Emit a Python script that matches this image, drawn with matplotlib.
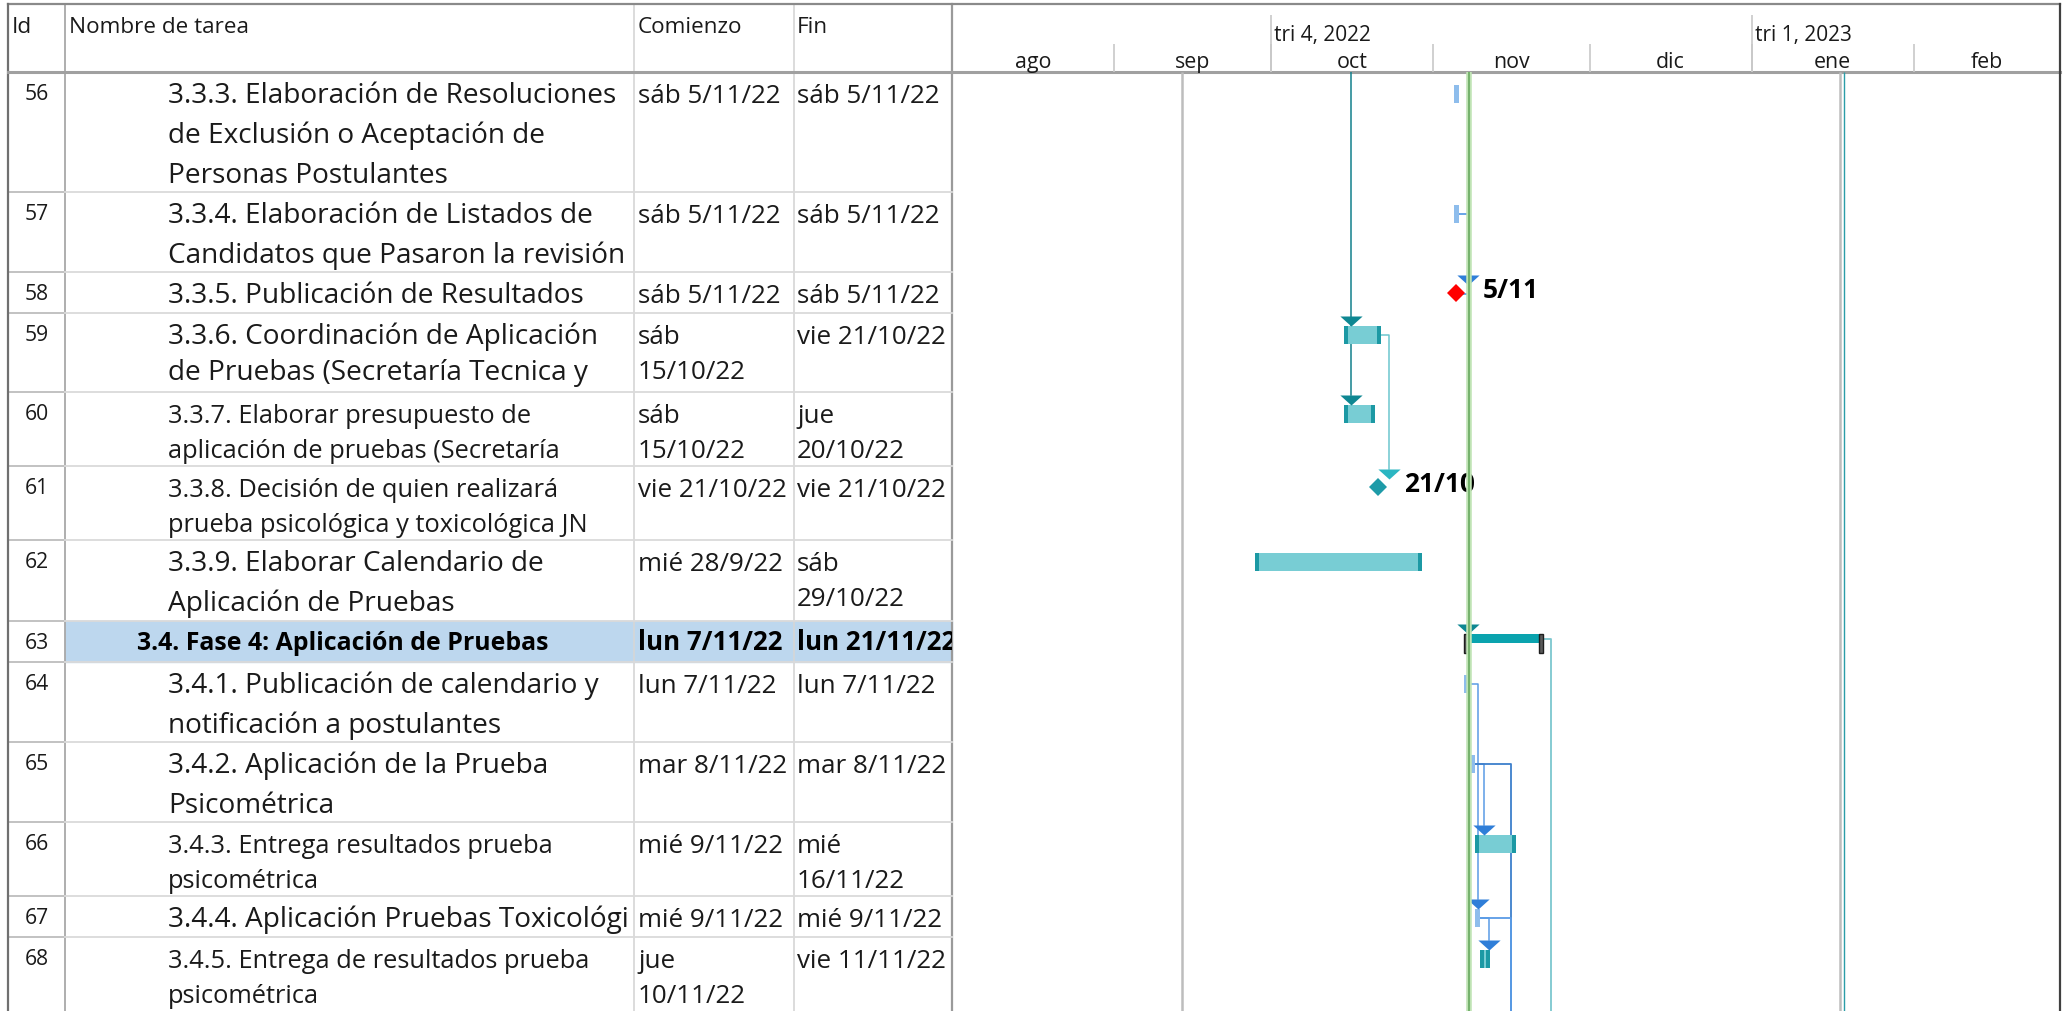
import matplotlib
matplotlib.use('Agg')
import matplotlib.pyplot as plt
from matplotlib.path import Path
from matplotlib.markers import MarkerStyle
from matplotlib.transforms import Bbox, TransformedBbox
from datetime import datetime, timedelta

plt.rcParams['font.family'] = ['Open Sans', 'DejaVu Sans']

# ---------------- data ----------------
ids = [56, 57, 58, 59, 60, 61, 62, 63, 64, 65, 66, 67, 68]
names = [
    "3.3.3. Elaboración de Resoluciones\nde Exclusión o Aceptación de\nPersonas Postulantes",
    "3.3.4. Elaboración de Listados de\nCandidatos que Pasaron la revisión",
    "3.3.5. Publicación de Resultados",
    "3.3.6. Coordinación de Aplicación\nde Pruebas (Secretaría Tecnica y",
    "3.3.7. Elaborar presupuesto de\naplicación de pruebas (Secretaría",
    "3.3.8. Decisión de quien realizará\nprueba psicológica y toxicológica JN",
    "3.3.9. Elaborar Calendario de\nAplicación de Pruebas",
    "3.4. Fase 4: Aplicación de Pruebas",
    "3.4.1. Publicación de calendario y\nnotificación a postulantes",
    "3.4.2. Aplicación de la Prueba\nPsicométrica",
    "3.4.3. Entrega resultados prueba\npsicométrica",
    "3.4.4. Aplicación Pruebas Toxicológi",
    "3.4.5. Entrega de resultados prueba\npsicométrica",
]
start_labels = ["sáb 5/11/22", "sáb 5/11/22", "sáb 5/11/22", "sáb\n15/10/22", "sáb\n15/10/22",
                "vie 21/10/22", "mié 28/9/22", "lun 7/11/22", "lun 7/11/22", "mar 8/11/22",
                "mié 9/11/22", "mié 9/11/22", "jue\n10/11/22"]
finish_labels = ["sáb 5/11/22", "sáb 5/11/22", "sáb 5/11/22", "vie 21/10/22", "jue\n20/10/22",
                 "vie 21/10/22", "sáb\n29/10/22", "lun 21/11/22", "lun 7/11/22", "mar 8/11/22",
                 "mié\n16/11/22", "mié 9/11/22", "vie 11/11/22"]
task_start = ["2022-11-05", "2022-11-05", "2022-11-05", "2022-10-15", "2022-10-15", "2022-10-21",
              "2022-09-28", "2022-11-07", "2022-11-07", "2022-11-08", "2022-11-09", "2022-11-09",
              "2022-11-10"]
task_finish = ["2022-11-05", "2022-11-05", "2022-11-05", "2022-10-21", "2022-10-20", "2022-10-21",
               "2022-10-29", "2022-11-21", "2022-11-07", "2022-11-08", "2022-11-16", "2022-11-09",
               "2022-11-11"]
task_kind = ["manual", "manual", "milestone", "task", "task", "milestone", "task", "summary",
             "manual", "manual", "task", "manual", "task"]
small_text = [60, 61, 66, 68]
milestone_labels = {58: "5/11", 61: "21/10"}

# links between visible tasks (pred, succ) and the colour of each link
links = [(57, 58), (58, 63), (59, 61), (64, 67), (65, 66), (67, 68)]
link_colors = ["#3F8BE0", "#3F8BE0", "#6CC6CE", "#5A9BE6", "#5A9BE6", "#5A9BE6"]
# links to tasks further down (pred, x where the line drops) and from a task above
links_out = [(63, None), (65, "2022-11-16"), (67, "2022-11-16")]
links_out_colors = ["#7CC7CF", "#3D7FCB", "#5A9BE6"]
link_in_date = datetime(2022, 10, 16, 6)
link_in_tasks = [59, 60]
arrow_colors = {58: "#2F7ED8", 59: "#0E8792", 60: "#0E8792", 61: "#2BB6C2", 63: "#0E8792",
                66: "#2F7ED8", 67: "#2F7ED8", 68: "#2F7ED8"}

months = ["ago", "sep", "oct", "nov", "dic", "ene", "feb"]
month_starts = ["2022-08-01", "2022-09-01", "2022-10-01", "2022-11-01", "2022-12-01",
                "2023-01-01", "2023-02-01"]
quarters = ["tri 4, 2022", "tri 1, 2023"]
quarter_starts = ["2022-10-01", "2023-01-01"]
gray_lines = ["2022-09-14", "2023-01-18"]
pass_line = datetime(2023, 1, 18, 14)
today = datetime(2022, 11, 7, 20)

# ---------------- layout (pixels) ----------------
W, H = 2070, 1012
row_heights = [120, 80, 41, 79, 74, 74, 81, 41, 80, 80, 74, 41, 80]
head_bottom = 73
x_left, x_id, x_name, x_start, x_fin, x_right = 8, 65, 634, 794, 952, 2060
row_tops = [head_bottom]
for h in row_heights[:-1]:
    row_tops.append(row_tops[-1] + h)

d = lambda s: datetime.strptime(s, "%Y-%m-%d")
t0, t1 = datetime(2022, 8, 1), datetime(2023, 3, 1)
px_day = (x_right - x_fin) / (t1 - t0).days
gap = timedelta(days=1.7)

fig = plt.figure(figsize=(W / 100, H / 100), dpi=100)
ax = fig.add_axes([0, 0, 1, 1])
ax.set_xlim(0, W)
ax.set_ylim(H, 0)
ax.axis("off")

BIG, SMALL, DATE, HEAD, IDS = 20.2, 18.3, 18.7, 16.2, 15.2


def clipped(x, y, s, x0, x1, **kw):
    t = ax.text(x, y, s, clip_on=True, **kw)
    t.set_clip_box(TransformedBbox(Bbox([[x0, 0], [x1, H]]), ax.transData))
    return t


# table frame and header
ax.add_patch(plt.Rectangle((x_id, row_tops[7]), x_fin - x_id, row_heights[7], color="#BDD7EE", zorder=0))
for x in (x_name, x_start):
    ax.plot([x, x], [5, H], color="#D6D6D6", lw=1.2)
ax.plot([x_id, x_id], [5, H], color="#A8A8A8", lw=1.3)
ax.plot([x_fin, x_fin], [5, H], color="#9A9A9A", lw=1.6)
for top, h in zip(row_tops, row_heights):
    yb = top + h
    ax.plot([x_left, x_id], [yb, yb], color="#BDBDBD", lw=1.3)
    ax.plot([x_id, x_fin], [yb, yb], color="#DADADA", lw=1.3)
ax.plot([x_left, x_right], [head_bottom, head_bottom], color="#A0A0A0", lw=2.2, zorder=5)
ax.plot([x_left, x_right], [5, 5], color="#8A8A8A", lw=1.6)
ax.plot([x_left, x_left], [5, H], color="#707070", lw=1.6)
ax.plot([x_right, x_right], [5, H], color="#404040", lw=1.6, zorder=6)

for s, x in zip(["Id", "Nombre de tarea", "Comienzo", "Fin"], [12, 69, 638, 797]):
    ax.text(x, 33, s, fontsize=HEAD, color="#1a1a1a")

for i, tid in enumerate(ids):
    top = row_tops[i]
    ax.text(37, top + 27, str(tid), fontsize=IDS, ha="center", color="#1a1a1a")
    if task_kind[i] == "summary":
        clipped(137, top + 28, names[i], x_id, x_name, fontsize=17.9, fontweight="bold", color="black")
        clipped(638, top + 28, start_labels[i], x_name, x_start, fontsize=18.6, fontweight="bold", color="black")
        clipped(797, top + 28, finish_labels[i], x_start, x_fin, fontsize=18.6, fontweight="bold", color="black")
        continue
    small = tid in small_text
    size = SMALL if small else BIG
    step = 35 if small else (36 if tid == 59 else 40)
    for k, line in enumerate(names[i].split("\n")):
        clipped(168, top + 30 + k * step, line, x_id, x_name - 1, fontsize=size, color="#1a1a1a")
    for k, line in enumerate(start_labels[i].split("\n")):
        clipped(638, top + 30 + k * 35, line, x_name, x_start, fontsize=DATE, color="#1a1a1a")
    for k, line in enumerate(finish_labels[i].split("\n")):
        clipped(797, top + 30 + k * 35, line, x_start, x_fin, fontsize=DATE, color="#1a1a1a")

# ---------------- timescale header ----------------
hx = fig.add_axes([x_fin / W, 1 - head_bottom / H, (x_right - x_fin) / W, (head_bottom - 5) / H])
hx.set_xlim(t0, t1)
hx.set_ylim(head_bottom, 5)
hx.axis("off")
ms = [d(s) for s in month_starts]
hx.vlines(ms[1:], 45, head_bottom, color="#C8C8C8", lw=1.2)
hx.vlines([d(s) for s in quarter_starts], 16, head_bottom, color="#C8C8C8", lw=1.2)
for m, s, e in zip(months, ms, ms[1:] + [t1]):
    hx.text(s + (e - s) / 2, 68, m, ha="center", fontsize=HEAD - 0.8, color="#1a1a1a")
for q, s in zip(quarters, quarter_starts):
    hx.text(d(s) + timedelta(days=0.6), 41, q, fontsize=HEAD - 1.2, color="#1a1a1a")

# ---------------- gantt body ----------------
gx = fig.add_axes([x_fin / W, 0, (x_right - x_fin) / W, 1 - head_bottom / H])
gx.set_xlim(t0, t1)
gx.set_ylim(H, head_bottom)
gx.axis("off")

gx.vlines([d(s) for s in gray_lines], head_bottom, H, color="#BDBDBD", lw=1.8, zorder=1)
gx.vlines([pass_line], head_bottom, H, color="#2A9DA8", lw=1.0, zorder=1)

# flat downward triangle, top edge on the anchor point
tri = MarkerStyle(Path([(-1, 0), (1, 0), (0, -0.9), (-1, 0)], closed=True))
cap = timedelta(days=4 / px_day)
pos = {tid: i for i, tid in enumerate(ids)}
start = {tid: d(s) for tid, s in zip(ids, task_start)}
end = {tid: d(s) + timedelta(days=1) for tid, s in zip(ids, task_finish)}


def mid(tid):
    return row_tops[pos[tid]] + 21.5


def arrow(tid, x):
    top = row_tops[pos[tid]]
    gx.plot([x], [top + 2.5], marker=tri, ms=16, color=arrow_colors[tid], mew=0, zorder=6)


# incoming link from a task above the visible rows
last = max(link_in_tasks, key=lambda t: pos[t])
gx.plot([link_in_date, link_in_date], [head_bottom, row_tops[pos[last]] + 3], color="#12808C", lw=1.1, zorder=2)
for tid in link_in_tasks:
    arrow(tid, link_in_date)

# links between visible tasks
for (a, b), c in zip(links, link_colors):
    x = end[a] + gap
    y0 = mid(a)
    gx.plot([end[a], x, x], [y0, y0, row_tops[pos[b]] + 3], color=c, lw=1.1, zorder=2)
    arrow(b, x)

# links to tasks below
for (a, xs), c in zip(links_out, links_out_colors):
    x = end[a] + gap if xs is None else d(xs)
    y0 = mid(a) - (4 if task_kind[pos[a]] == "summary" else 0)
    gx.plot([end[a], x, x], [y0, y0, H], color=c, lw=1.3, zorder=2)

# bars
for i, tid in enumerate(ids):
    kind = task_kind[i]
    y = mid(tid)
    s, e = start[tid], end[tid]
    if kind == "manual":
        gx.barh(y, e - s, left=s, height=18, color="#8EBDEC", zorder=4)
    elif kind == "task":
        gx.barh(y, e - s, left=s, height=18, color="#78CDD4", zorder=4)
        gx.barh(y, cap, left=s, height=18, color="#1C99A4", zorder=5)
        gx.barh(y, cap, left=e - cap, height=18, color="#1C99A4", zorder=5)
    elif kind == "summary":
        gx.barh(y - 4, e - s, left=s, height=9, color="#0AA3AE", zorder=4)
        for xx in (s, e - cap):
            gx.barh(y + 0.5, cap * 1.1, left=xx, height=19, color="#5A5A5A", edgecolor="#1E1E1E",
                    lw=1.0, zorder=5)
    else:
        col = "#FF0000" if tid == 58 else "#1E9BA8"
        gx.plot([s + timedelta(hours=12)], [y - 1], marker="D", ms=9.2, color=col, mew=0, zorder=5)
        gx.text(s + timedelta(days=5.5), y - 4, milestone_labels[tid], fontsize=19, fontweight="bold",
                va="center", color="black", zorder=5)

# current date line
gx.vlines([today], head_bottom, H, color="#BFE3B4", lw=4, zorder=8)
gx.vlines([today], head_bottom, H, color="#74B16C", lw=1.4, zorder=9)

fig.savefig("out.png", dpi=100)
